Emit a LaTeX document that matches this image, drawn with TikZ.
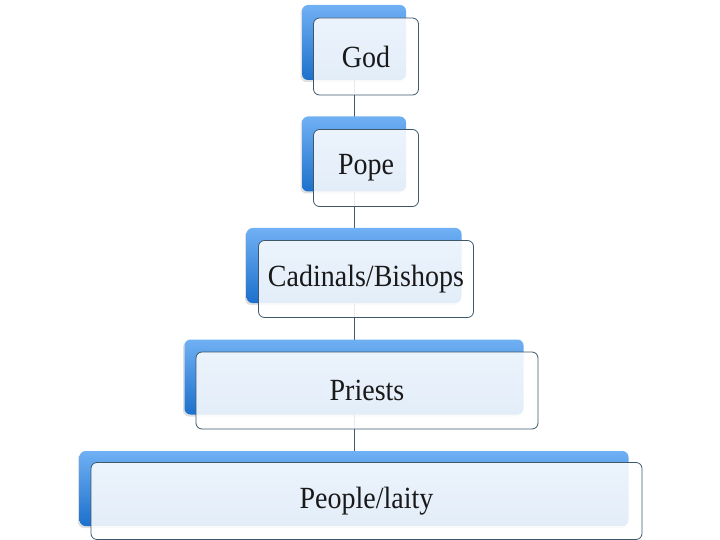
\documentclass[tikz,border=0pt]{standalone}
\usepackage{fontspec}
\setmainfont{Liberation Serif}
\usepackage{graphicx}
\usepackage{tikz}
\usetikzlibrary{shadows,backgrounds}
\definecolor{backtop}{RGB}{112,176,244}
\definecolor{backbottom}{RGB}{28,112,204}
\definecolor{edgegray}{RGB}{62,88,106}
\newcommand{\tall}[1]{\scalebox{1}[1.1]{#1}}

\begin{document}
\begin{tikzpicture}[x=1pt,y=-1pt,
    back/.style={rounded corners=6pt,minimum height=75pt,inner sep=0pt,
                 top color=backtop,bottom color=backbottom,
                 drop shadow={shadow xshift=-1.5pt,shadow yshift=-2pt,opacity=0.25}},
    front/.style={draw=edgegray,line width=0.8pt,rounded corners=6pt,minimum height=77pt,
                  inner sep=0pt,fill=white,fill opacity=0.88,draw opacity=1,
                  text opacity=1,font=\fontsize{28}{30}\selectfont,text=black!90}]
    \useasboundingbox (0,0) rectangle (720,540);

    % back (blue) boxes
    \node[back,minimum width=104pt] (godback) at (354,42.5) {};
    \node[back,minimum width=104pt] (popeback) at (354,154) {};
    \node[back,minimum width=215pt] (cardback) at (354,265.5) {};
    \node[back,minimum width=339pt] (priestback) at (354,377) {};
    \node[back,minimum width=549pt] (peopleback) at (354,488.5) {};

    % front (label) boxes
    \node[front,minimum width=105pt] (god) at (366,56.5) {\tall{God}};
    \node[front,minimum width=105pt] (pope) at (366,168) {\tall{Pope}};
    \node[front,minimum width=215pt] (card) at (366,279) {\tall{Cadinals/Bishops}};
    \node[front,minimum width=342pt] (priest) at (367,390.5) {\tall{Priests}};
    \node[front,minimum width=551pt] (people) at (366.5,501) {\tall{People/laity}};

    \begin{scope}[on background layer]
      \draw[edgegray,line width=0.8pt] (godback.center) -- (popeback.center);
      \draw[edgegray,line width=0.8pt] (popeback.center) -- (cardback.center);
      \draw[edgegray,line width=0.8pt] (cardback.center) -- (priestback.center);
      \draw[edgegray,line width=0.8pt] (priestback.center) -- (peopleback.center);
    \end{scope}
  \end{tikzpicture}
\end{document}
